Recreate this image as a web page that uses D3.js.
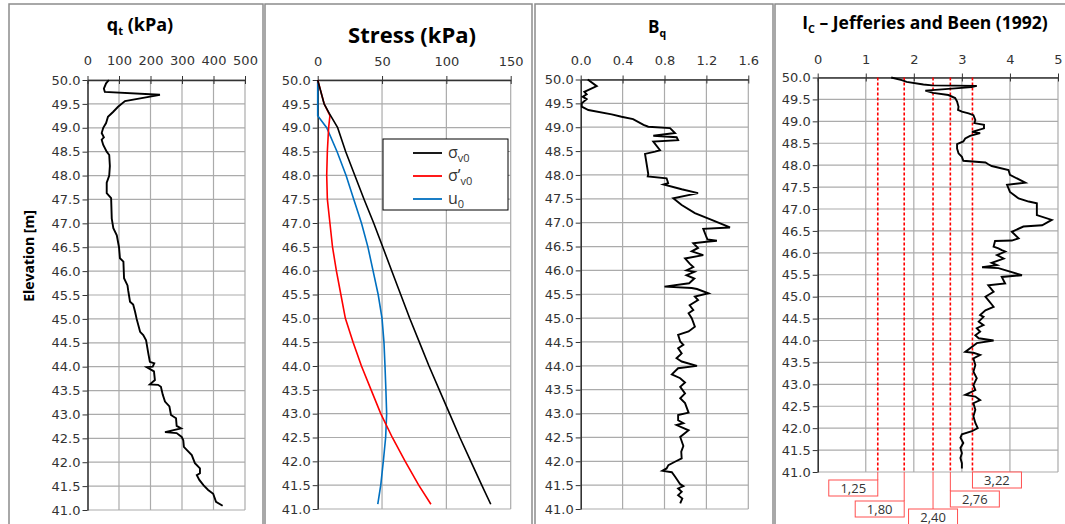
<!DOCTYPE html>
<html>
<head>
<meta charset="UTF-8">
<title>CPT profile</title>
<script src="https://d3js.org/d3.v7.min.js"></script>
<style>
  body { margin: 0; background: #fff; }
  svg text { font-family: "DejaVu Sans", Verdana, sans-serif; fill: #333; }
  svg .title { font-family: "Open Sans", sans-serif; font-weight: bold; fill: #000; }
</style>
</head>
<body>
<div id="svg-container"></div>
<script>
// shared elevation axis
const elevTicks = [50.0, 49.5, 49.0, 48.5, 48.0, 47.5, 47.0, 46.5, 46.0, 45.5,
                   45.0, 44.5, 44.0, 43.5, 43.0, 42.5, 42.0, 41.5, 41.0];
const qtTicks = [0, 100, 200, 300, 400, 500];
const stressTicks = [0, 50, 100, 150];
const bqTicks = [0, 0.4, 0.8, 1.2, 1.6];
const icTicks = [0, 1, 2, 3, 4, 5];

// profiles as [elevation, value]
const qtProfile = [
  [50.0,68],[49.93,59],[49.82,52],[49.75,55],[49.69,230],[49.62,172],[49.56,119],[49.44,97],
  [49.33,81],[49.23,65],[49.1,59],[49.0,50],[48.89,45],[48.8,52],[48.75,45],[48.64,50],
  [48.5,61],[48.43,69],[48.2,71],[48.0,69],[47.85,61],[47.63,61],[47.53,75],[47.1,77],
  [46.9,82],[46.75,93],[46.5,100],[46.27,103],[46.2,114],[45.85,116],[45.7,127],[45.6,129],
  [45.36,135],[45.3,145],[45.15,151],[45.0,156],[44.73,167],[44.66,177],[44.55,186],[44.28,193],
  [44.1,198],[44.07,212],[44.0,207],[43.99,188],[43.9,211],[43.72,214],[43.63,198],[43.62,224],
  [43.58,233],[43.41,239],[43.27,246],[43.17,260],[42.99,265],[42.92,281],[42.76,283],[42.71,297],
  [42.63,246],[42.61,283],[42.53,299],[42.46,304],[42.32,306],[42.26,315],[42.15,331],[41.98,341],
  [41.87,357],[41.77,357],[41.73,347],[41.63,355],[41.52,368],[41.42,383],[41.34,399],[41.17,408],
  [41.09,429]
];
const sigmaV0 = [
  [50.0,0],[49.5,5],[49.3,9],[49.0,15.5],[48.5,21.7],[48.0,28.8],[47.5,36],[47.0,43.5],
  [46.5,50.5],[46.0,57.5],[45.5,64.5],[45.0,71.5],[44.5,79],[44.0,86.5],[43.5,94.5],
  [43.0,102.5],[42.5,110.5],[42.0,119],[41.5,127.5],[41.1,134.5]
];
const sigmaV0Eff = [
  [50.0,0],[49.5,5],[49.25,9.5],[49.0,8.5],[48.5,7.5],[48.0,7],[47.5,7.5],[47.0,9.5],
  [46.5,11.5],[46.0,14.5],[45.5,18],[45.0,21.5],[44.5,27.5],[44.0,34],[43.5,41.5],
  [43.0,49],[42.5,58],[42.0,68],[41.5,78.5],[41.1,88]
];
const u0Profile = [
  [50.0,0],[49.25,0],[49.0,7],[48.5,15],[48.0,22],[47.5,28],[47.0,34],[46.5,39],[46.0,43],
  [45.5,47],[45.0,50],[44.5,51.5],[44.0,52.3],[43.5,53],[43.0,53.6],[42.5,52.8],[42.0,51],
  [41.5,49],[41.1,46.7]
];
const bqProfile = [
  [50.0,0.067],[49.86,0.153],[49.74,0.035],[49.69,0.057],[49.64,0.019],[49.59,0.057],[49.5,0.01],
  [49.43,0.01],[49.36,0.073],[49.27,0.296],[49.22,0.39],[49.17,0.5],[49.05,0.6],[49.01,0.645],
  [48.98,0.853],[48.88,0.9],[48.82,0.693],[48.79,0.916],[48.73,0.93],[48.7,0.693],[48.52,0.757],
  [48.49,0.71],[48.44,0.614],[48.02,0.645],[47.97,0.64],[47.93,0.82],[47.83,0.835],[47.8,0.79],
  [47.7,0.964],[47.62,1.12],[47.51,0.884],[47.37,0.964],[47.2,1.09],[47.06,1.25],[46.9,1.425],
  [46.87,1.17],[46.7,1.2],[46.65,1.21],[46.62,1.3],[46.6,1.2],[46.57,1.075],[46.47,1.12],
  [46.4,1.06],[46.32,1.17],[46.25,0.996],[46.14,1.04],[46.07,1.075],[46.0,1.01],[45.97,1.085],
  [45.9,1.01],[45.83,1.085],[45.73,1.035],[45.66,0.8],[45.63,1.06],[45.61,1.11],[45.52,1.22],
  [45.45,1.09],[45.38,1.12],[45.27,1.04],[45.17,1.075],[45.1,1.03],[45.0,1.06],[44.82,1.09],
  [44.72,1.03],[44.65,0.93],[44.51,0.95],[44.44,0.98],[44.37,0.93],[44.26,0.964],[44.16,0.915],
  [44.09,0.964],[44.0,1.11],[43.95,0.93],[43.82,0.87],[43.74,0.95],[43.65,0.996],[43.56,0.95],
  [43.42,0.996],[43.32,0.95],[43.22,0.996],[43.02,1.03],[42.97,0.93],[42.86,0.93],[42.8,0.98],
  [42.76,0.915],[42.65,1.03],[42.51,0.95],[42.32,0.98],[42.2,0.96],[42.06,0.964],[41.99,0.9],
  [41.92,0.837],[41.85,0.82],[41.8,0.78],[41.77,0.87],[41.68,0.9],[41.52,0.95],[41.48,0.98],
  [41.43,0.93],[41.36,0.964],[41.29,0.93],[41.22,0.97],[41.12,0.95]
];
const icProfile = [
  [50.0,1.53],[49.94,1.75],[49.9,1.85],[49.84,2.2],[49.82,2.38],[49.81,3.31],[49.78,3.2],
  [49.7,2.24],[49.65,2.4],[49.6,2.72],[49.53,2.86],[49.45,2.9],[49.33,2.93],[49.26,2.92],
  [49.22,3.0],[49.18,3.14],[49.14,3.24],[49.03,3.28],[48.96,3.26],[48.92,3.46],[48.84,3.46],
  [48.76,3.21],[48.73,3.38],[48.67,3.17],[48.61,3.07],[48.54,3.03],[48.48,2.9],[48.38,2.9],
  [48.27,2.93],[48.19,3.0],[48.1,3.03],[48.06,3.49],[48.02,3.55],[47.98,3.62],[47.89,3.97],
  [47.78,4.0],[47.6,4.32],[47.55,3.94],[47.39,4.0],[47.24,4.18],[47.17,4.39],[47.13,4.56],
  [46.86,4.56],[46.75,4.87],[46.63,4.67],[46.6,4.28],[46.48,4.04],[46.33,4.18],[46.28,4.04],
  [46.27,3.69],[46.14,3.66],[46.1,3.76],[46.06,3.83],[46.03,3.9],[45.95,3.73],[45.87,3.87],
  [45.77,3.62],[45.72,3.73],[45.67,3.42],[45.65,3.76],[45.49,4.25],[45.45,3.83],[45.3,3.9],
  [45.26,3.55],[45.11,3.66],[45.0,3.49],[44.77,3.66],[44.69,3.49],[44.58,3.38],[44.54,3.45],
  [44.43,3.35],[44.35,3.45],[44.28,3.31],[44.2,3.38],[44.12,3.28],[44.05,3.35],[44.0,3.66],
  [43.94,3.31],[43.88,3.24],[43.74,3.07],[43.72,3.24],[43.67,3.38],[43.59,3.24],[43.44,3.28],
  [43.29,3.24],[43.14,3.31],[42.98,3.24],[42.87,3.28],[42.76,3.07],[42.72,3.28],[42.64,3.38],
  [42.57,3.24],[42.42,3.28],[42.27,3.24],[42.12,3.28],[42.0,3.33],[41.93,3.21],[41.86,3.0],
  [41.78,2.97],[41.66,3.03],[41.55,2.97],[41.43,3.0],[41.32,2.97],[41.2,3.0],[41.08,3.0]
];
const icLimits = [1.25, 1.80, 2.40, 2.76, 3.22];
const icLimitLabels = ["1,25", "1,80", "2,40", "2,76", "3,22"];

const W = 1065, H = 524;
const svg = d3.select("#svg-container").append("svg")
  .attr("width", W).attr("height", H);

// panel boxes and plot areas (pixels)
const panels = [
  { frame: [9, 4, 254], plot: [87.5, 245, 80, 510], domain: [0, 500], ticks: qtTicks, fmt: d3.format("d"), labelY: 65 },
  { frame: [265, 4, 267], plot: [317.7, 510.7, 80, 509], domain: [0, 150], ticks: stressTicks, fmt: d3.format("d"), labelY: 66 },
  { frame: [535, 4, 238], plot: [580.7, 748.3, 79.5, 509], domain: [0, 1.6], ticks: bqTicks, fmt: d3.format(".1f"), labelY: 65 },
  { frame: [775, 4, 300], plot: [817.7, 1058, 77.5, 472], domain: [0, 5], ticks: icTicks, fmt: d3.format("d"), labelY: 64 }
];

panels.forEach(p => {
  const [l, r, t, b] = p.plot;
  p.x = d3.scaleLinear().domain(p.domain).range([l, r]);
  p.y = d3.scaleLinear().domain([50, 41]).range([t, b]);
  p.g = svg.append("g");

  p.g.append("rect")
    .attr("x", p.frame[0]).attr("y", p.frame[1])
    .attr("width", p.frame[2]).attr("height", 540)
    .attr("fill", "none").attr("stroke", "#8c8c8c").attr("stroke-width", 1.5);

  // grid
  p.g.append("g").selectAll("line").data(elevTicks).join("line")
    .attr("x1", l).attr("x2", r)
    .attr("y1", d => p.y(d)).attr("y2", d => p.y(d))
    .attr("stroke", "#ababab").attr("stroke-width", 1.2);
  p.g.append("g").selectAll("line").data(p.ticks.slice(1)).join("line")
    .attr("x1", d => p.x(d)).attr("x2", d => p.x(d))
    .attr("y1", t).attr("y2", b)
    .attr("stroke", "#ababab").attr("stroke-width", 1.2);

  // top axis: ticks crossing the line
  const ax = p.g.append("g").attr("transform", `translate(0,${t})`)
    .call(d3.axisTop(p.x).tickValues(p.ticks).tickFormat(p.fmt).tickSize(4).tickSizeOuter(0));
  ax.select(".domain").attr("stroke", "#333").attr("stroke-width", 1.3);
  ax.selectAll(".tick line").attr("y2", 4).attr("y1", -4).attr("stroke", "#333");
  ax.selectAll(".tick text").attr("y", p.labelY - t).attr("dy", 0)
    .style("font-size", "13px").attr("fill", "#333");

  const ay = p.g.append("g").attr("transform", `translate(${l},0)`)
    .call(d3.axisLeft(p.y).tickValues(elevTicks).tickFormat(d3.format(".1f")).tickSize(5).tickSizeOuter(0));
  ay.select(".domain").attr("stroke", "#333").attr("stroke-width", 1.6);
  ay.selectAll(".tick line").attr("stroke", "#333");
  ay.selectAll(".tick text").attr("x", -7).style("font-size", "13px").attr("fill", "#333");
});

const line = p => d3.line().x(d => p.x(d[1])).y(d => p.y(d[0]));

// titles
function title(x, y, size, parts) {
  const t = svg.append("text").attr("class", "title").attr("x", x).attr("y", y)
    .attr("text-anchor", "middle").style("font-size", size + "px");
  parts.forEach(([s, sub]) => {
    t.append("tspan").text(s)
      .attr("dy", sub === 1 ? size * 0.22 : sub === -1 ? -size * 0.22 : 0)
      .style("font-size", sub === 1 ? (size * 0.62) + "px" : null);
  });
}
title(140, 31, 18, [["q", 0], ["t", 1], [" (kPa)", -1]]);
title(412, 43, 22, [["Stress (kPa)", 0]]);
title(657, 33, 17, [["B", 0], ["q", 1]]);
title(925, 29, 17.5, [["I", 0], ["C", 1], [" – Jefferies and Been (1992)", -1]]);

svg.append("text").attr("class", "title")
  .attr("transform", "translate(34,256) rotate(-90)")
  .attr("text-anchor", "middle").style("font-size", "14px")
  .text("Elevation [m]");

// qt
const p1 = panels[0];
svg.append("path").datum(qtProfile).attr("d", line(p1))
  .attr("fill", "none").attr("stroke", "#000").attr("stroke-width", 1.9);

// stresses
const p2 = panels[1];
const stressSeries = [
  { data: sigmaV0, color: "#000000", name: ["σ", "v0"] },
  { data: sigmaV0Eff, color: "#ff0000", name: ["σ’", "v0"] },
  { data: u0Profile, color: "#0070c0", name: ["u", "0"] }
];
stressSeries.slice().reverse().forEach(s => {
  svg.append("path").datum(s.data).attr("d", line(p2))
    .attr("fill", "none").attr("stroke", s.color).attr("stroke-width", 1.6);
});
const lg = svg.append("g");
lg.append("rect").attr("x", 383).attr("y", 139).attr("width", 125).attr("height", 71)
  .attr("fill", "#fff").attr("stroke", "#000").attr("stroke-width", 1);
stressSeries.forEach((s, i) => {
  const yy = 153 + i * 23;
  lg.append("line").attr("x1", 413).attr("x2", 442).attr("y1", yy).attr("y2", yy)
    .attr("stroke", s.color).attr("stroke-width", 1.8);
  const t = lg.append("text").attr("x", 448).attr("y", yy + 5)
    .style("font-family", "'Open Sans', sans-serif").style("font-size", "16px").attr("fill", "#000");
  t.append("tspan").text(s.name[0]);
  t.append("tspan").text(s.name[1]).attr("dy", 4).style("font-size", "11px");
});

// Bq
const p3 = panels[2];
svg.append("path").datum(bqProfile).attr("d", line(p3))
  .attr("fill", "none").attr("stroke", "#000").attr("stroke-width", 1.9);

// Ic with zone limits
const p4 = panels[3];
const [, , t4, b4] = p4.plot;
svg.append("g").selectAll("line").data(icLimits).join("line")
  .attr("x1", d => p4.x(d)).attr("x2", d => p4.x(d))
  .attr("y1", t4).attr("y2", b4)
  .attr("stroke", "#ff0000").attr("stroke-width", 1.6).attr("stroke-dasharray", "3,2");
svg.append("path").datum(icProfile).attr("d", line(p4))
  .attr("fill", "none").attr("stroke", "#000").attr("stroke-width", 1.9);

// callout boxes below the Ic track
const boxPlace = [
  { anchor: "right", top: 480 },
  { anchor: "right", top: 501 },
  { anchor: "center", top: 509 },
  { anchor: "left", top: 491 },
  { anchor: "left", top: 472 }
];
const bw = 49, bh = 16;
icLimits.forEach((v, i) => {
  const cx = p4.x(v), pl = boxPlace[i];
  const bx = pl.anchor === "right" ? cx - bw : pl.anchor === "left" ? cx : cx - bw / 2;
  svg.append("line").attr("x1", cx).attr("x2", cx).attr("y1", b4).attr("y2", pl.top)
    .attr("stroke", "#ff5050").attr("stroke-width", 1);
  svg.append("rect").attr("x", bx).attr("y", pl.top).attr("width", bw).attr("height", bh)
    .attr("fill", "#fff").attr("stroke", "#ff5050").attr("stroke-width", 1);
  svg.append("text").attr("x", bx + bw / 2).attr("y", pl.top + 12.5)
    .attr("text-anchor", "middle").style("font-family", "'Open Sans', sans-serif")
    .style("font-size", "13px").attr("fill", "#000").text(icLimitLabels[i]);
});
</script>
</body>
</html>
